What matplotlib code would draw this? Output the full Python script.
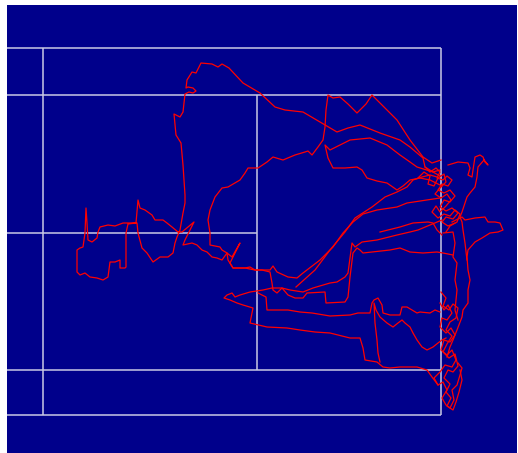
import matplotlib
matplotlib.use("Agg")
import matplotlib.pyplot as plt

# Court geometry in tracking-frame units (x: along the court, y: across it)
net_x = 43
service_x = 257
baseline_x = 441
far_service_x = -171
far_baseline_x = -355
doubles_y = [48, 415]
singles_y = [95, 370]
centre_y = 233

# Player positions, one list per rally
rally_1 = [(440,176),(433,172),(425,167),(423,158),(410,147),(400,140),(380,133),(360,125),(348,128),(337,132),
           (320,122),(303,112),(285,110),(275,107),(260,93),(243,83),(229,68),(222,64),(218,67),(212,64),(201,63),
           (196,73),(192,72),(187,80),(186,88),(188,87),(193,88),(196,91),(193,93),(189,92),(185,94),(183,112),
           (180,117),(174,114),(176,135),(181,143),(183,165),(185,195),(185,203),(183,213),(180,230),(177,237),
           (175,243),(173,253),(168,257),(160,257),(153,262),(147,253),(142,248),(138,233),(137,223),(130,223),
           (123,223),(115,226),(108,225),(100,227),(98,232),(97,238),(92,242),(88,240),(87,223),(86,208),(85,233),
           (83,247),(80,248),(77,250),(77,262),(77,272),(80,275),(85,273),(90,277),(97,278),(103,280),(108,277),
           (110,262),(115,262),(120,260),(120,268),(125,268),(126,267),(126,250),(126,233),(128,224),(136,223),
           (138,200),(140,208),(145,210),(152,215),(155,220),(163,220),(167,223),(172,227),(178,232),(182,232),
           (194,222),(185,240),(183,245),(192,243),(197,245),(202,250),(207,252),(212,257),(217,258),(222,260),
           (227,253),(232,257),(240,243),(230,263),(233,268),(245,268),(255,270),(262,270),(270,270),(273,266),
           (277,272),(288,277),(297,278),(303,273),(320,260),(333,247),(343,233),(353,222),(363,214),(377,210),
           (397,207),(407,203),(427,200),(440,198)]
rally_2 = [(441,160),(432,163),(423,157),(410,140),(397,120),(385,108),(372,95),(366,104),(357,113),(348,104),
           (340,97),(333,98),(328,95),(326,110),(325,127),(323,140),(318,147),(312,155),(308,151),(305,152),
           (295,155),(283,160),(273,157),(267,162),(258,168),(248,168),(245,173),(240,180),(228,187),(222,188),
           (215,197),(210,210),(208,220),(210,233),(210,245),(220,247),(222,250),(227,253),(228,260),(233,268),
           (245,268),(250,267),(255,270),(262,270),(270,272),(272,283),(273,290),(277,293),(282,288),(288,295),
           (295,298),(303,298),(307,293),(325,292),(326,303),(345,302),(348,297),(350,277),(353,253),(357,248),
           (360,250),(363,253),(390,250),(400,248),(410,252),(423,253),(437,252),(443,253),(453,255)]
rally_3 = [(442,186),(430,180),(420,178),(410,180),(403,186),(397,190),(387,183),(377,181),(367,178),(362,170),
           (357,167),(345,168),(333,168),(328,158),(325,145),(330,150),(340,145),(350,140),(360,139),(370,138),
           (387,145),(400,155),(410,162),(417,167),(433,172),(440,170)]
rally_4 = [(442,220),(430,225),(418,230),(410,232),(397,235),(377,240),(362,242),(355,247),(352,243),(350,258),
           (348,273),(345,277),(337,282),(330,283),(313,288),(303,292),(290,290),(282,288),(272,288),(263,290),
           (250,292),(240,295),(235,297),(232,293),(227,295),(224,298),(230,300),(237,303),(243,305),(253,308),
           (250,323),(267,327),(287,328),(300,330),(315,332),(330,333),(350,338),(360,338),(363,348),(365,360),
           (377,362),(383,367),(390,368),(400,367),(417,367),(427,370),(432,377),(438,385)]
rally_5 = [(440,312),(435,310),(430,313),(420,312),(417,313),(412,310),(407,307),(402,307),(400,315),(390,315),
           (383,313),(382,305),(378,298),(374,300),(372,303),(370,313),(358,313),(350,315),(330,316),(312,313),
           (300,312),(288,310),(267,310),(266,297),(258,293)]
rally_6 = [(446,338),(442,340),(438,343),(433,347),(427,350),(422,347),(417,340),(413,333),(410,327),(405,323),
           (402,320),(398,323),(393,327),(387,323),(380,317),(376,310),(374,303),(375,323),(377,340),(378,353),
           (380,362)]
rally_7 = [(452,222),(462,217),(465,220),(475,218),(485,217),(488,222),(495,222),(500,223),(503,230),(498,232),
           (490,233),(482,238),(475,242),(468,250),(467,257),(468,270),(470,280),(468,290),(468,303),(463,310),
           (462,317),(457,330),(453,340),(450,347),(447,357)]
rally_8 = [(443,233),(453,232),(455,243),(453,257),(457,263),(455,280),(457,290),(455,310),(458,320)]
rally_9 = [(448,165),(458,162),(468,163),(470,168),(468,175),(472,177),(473,170),(475,157),(480,155),(483,157),
           (485,162),(488,165),(484,160),(478,167),(477,177),(475,187),(470,193),(467,197),(465,203),(462,212),
           (460,217),(462,222),(463,230),(465,243),(467,260)]
rally_10 = [(296,287),(315,270),(330,250),(345,232),(355,218),(372,207),(385,197),(397,192),(407,187),(413,180),
            (422,177),(430,175),(437,177)]
rally_11 = [(380,232),(400,227),(413,223),(428,222),(433,223),(437,230),(442,235)]
rally_12 = [(425,167),(430,172),(436,168),(440,172),(437,178),(443,180),(447,176),(452,180),(448,186),(442,184),
            (438,190),(444,193),(450,190),(455,196),(450,202),(444,200),(440,207),(446,211),(452,208),(458,213),
            (453,219),(446,217),(442,222),(448,226),(455,223)]
rally_13 = [(440,303),(444,310),(448,305),(452,313),(447,320),(442,318),(440,327),(446,333),(451,328),(455,335),
            (450,342),(444,340),(441,350),(447,355),(452,350),(456,360),(452,367),(445,365),(440,372),(434,378),
            (438,385),(443,382),(447,390),(442,398),(446,405),(450,408),(454,400),(452,390),(457,385),(460,375),
            (462,368),(458,363)]
rally_14 = [(418,178),(424,172),(430,176),(428,184),(434,186),(438,178),(444,174),(446,182),(440,188),(435,194),
            (441,198),(447,194),(451,200),(446,206),(440,212),(436,206),(432,212),(438,218),(444,214),(450,216),
            (455,210),(460,214),(457,222),(450,226),(446,232)]
rally_15 = [(441,292),(446,298),(443,306),(449,310),(453,304),(458,308),(456,318),(450,322),(446,330),(452,336),
            (447,344),(443,352),(449,358),(455,354),(458,366),(453,372),(448,370),(444,378),(450,384),(446,392),
            (451,398),(447,406),(453,410),(456,402),(459,392),(462,380),(460,370)]

rallies = [rally_1, rally_2, rally_3, rally_4, rally_5, rally_6, rally_7, rally_8,
           rally_9, rally_10, rally_11, rally_12, rally_13, rally_14, rally_15]

fig = plt.figure(figsize=(5.18, 4.53), dpi=100)
ax = fig.add_axes([7 / 518, 0, 510 / 518, 448 / 453])
ax.set_facecolor("#00008b")
ax.set_xlim(7, 517)
ax.set_ylim(453, 5)
for s in ax.spines.values():
    s.set_visible(False)
ax.set_xticks([])
ax.set_yticks([])

line_kw = dict(color="#c8c8e4", lw=1.1, zorder=1, solid_capstyle="butt")
# sidelines
for y in doubles_y + singles_y:
    ax.plot([far_baseline_x, baseline_x], [y, y], **line_kw)
# centre service line
ax.plot([far_service_x, service_x], [centre_y, centre_y], **line_kw)
# net, service line, baseline
ax.plot([net_x, net_x], doubles_y, **line_kw)
ax.plot([service_x, service_x], singles_y, **line_kw)
ax.plot([baseline_x, baseline_x], doubles_y, **line_kw)

for r in rallies:
    xs = [p[0] for p in r]
    ys = [p[1] for p in r]
    ax.plot(xs, ys, color="#ff0000", lw=0.9, zorder=2)

fig.savefig("out.png", dpi=100)
